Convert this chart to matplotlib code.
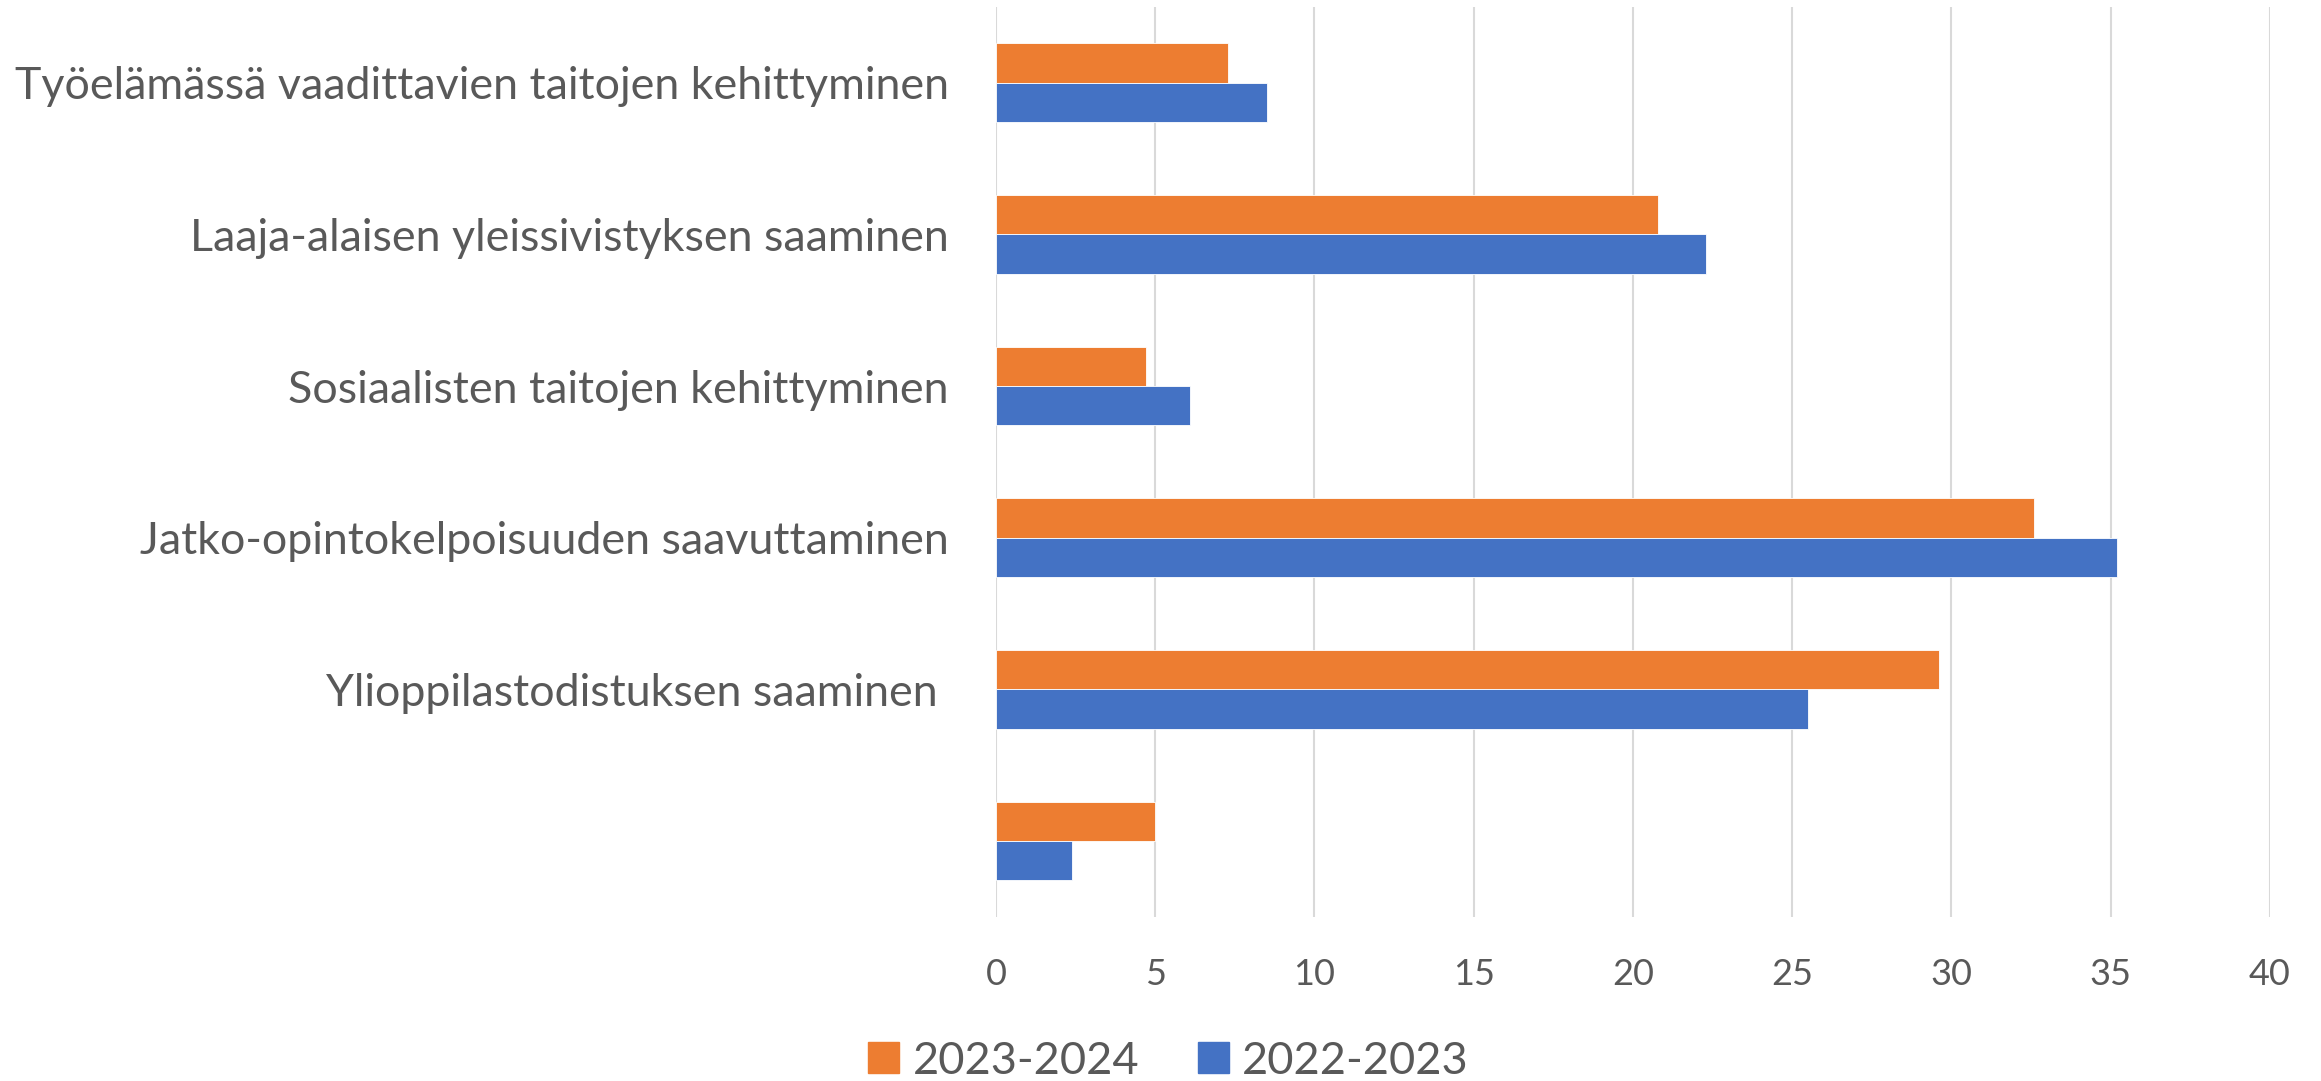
"""Horizontal grouped bar chart: goals of upper secondary studies, two school years."""
import matplotlib
matplotlib.use('Agg')
import matplotlib.pyplot as plt
import matplotlib.patches as mpatches
import numpy as np

plt.rcParams['font.family'] = ['Lato', 'DejaVu Sans']

categories = [
    '',
    'Ylioppilastodistuksen saaminen ',
    'Jatko-opintokelpoisuuden saavuttaminen',
    'Sosiaalisten taitojen kehittyminen',
    'Laaja-alaisen yleissivistyksen saaminen',
    'Työelämässä vaadittavien taitojen kehittyminen',
]
series_names = ['2023-2024', '2022-2023']
vals_2023_2024 = [5.0, 29.6, 32.6, 4.7, 20.8, 7.3]
vals_2022_2023 = [2.4, 25.5, 35.2, 6.1, 22.3, 8.5]
x_ticks = [0, 5, 10, 15, 20, 25, 30, 35, 40]

ORANGE = '#ED7D31'
BLUE = '#4472C4'
TXT = '#595959'
GRID = '#D9D9D9'

fig = plt.figure(figsize=(23.21, 10.81), dpi=100)
ax = fig.add_axes([0.4291, 0.1519, 0.978 - 0.4291, 0.9936 - 0.1519])

y = np.arange(len(categories))
h = 0.26
ax.barh(y + h / 2, vals_2023_2024, height=h, color=ORANGE, zorder=3,
        edgecolor='white', linewidth=0.6)
ax.barh(y - h / 2, vals_2022_2023, height=h, color=BLUE, zorder=3,
        edgecolor='white', linewidth=0.6)

ax.set_xlim(0, 40)
ax.set_ylim(-0.5, len(categories) - 0.5)
ax.set_xticks(x_ticks)
ax.set_yticks(y)
ax.set_yticklabels(categories)
ax.tick_params(axis='y', length=0, pad=34, labelsize=32.2, labelcolor=TXT)
ax.tick_params(axis='x', length=0, pad=30, labelsize=26, labelcolor=TXT)

ax.grid(axis='x', color=GRID, lw=1.5, zorder=0)
ax.set_axisbelow(True)
for s in ax.spines.values():
    s.set_visible(False)

handles = [mpatches.Patch(color=ORANGE, label=series_names[0]),
           mpatches.Patch(color=BLUE, label=series_names[1])]
leg = fig.legend(handles=handles, loc='center', bbox_to_anchor=(0.5035, 0.0185),
                 ncol=2, frameon=False, fontsize=32.5, handlelength=0.68,
                 handleheight=0.68, handletextpad=0.3, columnspacing=1.3)
for t in leg.get_texts():
    t.set_color(TXT)

fig.savefig('out.png', dpi=100, facecolor='white')
